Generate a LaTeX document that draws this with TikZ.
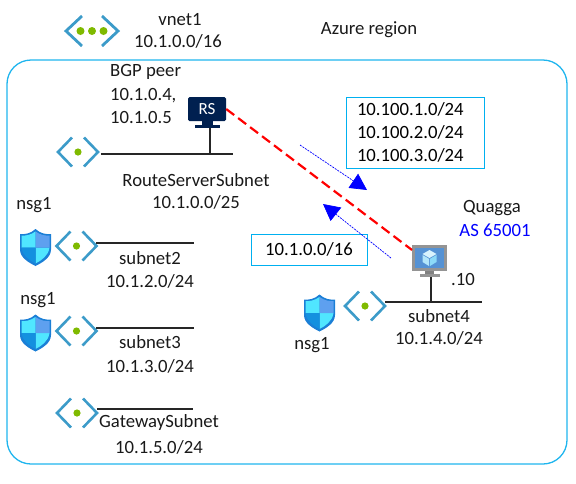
\documentclass[tikz,border=0pt]{standalone}
\usepackage{fontspec}
\setmainfont{Carlito}
\usepackage{tikz}
\usetikzlibrary{arrows.meta}
\definecolor{framecyan}{HTML}{1FB5EE}
\definecolor{boxcyan}{HTML}{00B0F0}
\definecolor{iconblue}{HTML}{3C9BC9}
\definecolor{icongreen}{HTML}{7FBA00}
\definecolor{rsnavy}{HTML}{002050}
\definecolor{shieldedge}{HTML}{1B7FD6}
\definecolor{shieldlight}{HTML}{50E6FF}
\definecolor{shieldmid}{HTML}{5EA0EF}
\definecolor{shielddeep}{HTML}{1490DF}
\tikzset{
  lbl/.style={inner sep=0pt, font=\fontsize{18.7}{22}\selectfont, text=black!90},
  subnetline/.style={line width=1.4pt, black!85},
  routebox/.style={draw=boxcyan, line width=1pt, fill=white, inner sep=0pt},
  peerlink/.style={line width=2.2pt, red, dash pattern=on 10pt off 5pt},
  advert/.style={line width=.7pt, blue, dash pattern=on 2pt off 1pt, -{Triangle[length=16.5pt,width=17pt]}},
  chevrons/.pic={
    \draw[iconblue, line width=2.6pt] (-6,-14.5) -- (-20,0) -- (-6,14.5);
    \draw[iconblue, line width=2.6pt] (6,-14.5) -- (20,0) -- (6,14.5);
    \fill[icongreen] (0,0) circle (3.6);
  },
  vneticon/.pic={
    \draw[iconblue, line width=2.8pt] (-10,-15) -- (-26,0) -- (-10,15);
    \draw[iconblue, line width=2.8pt] (10,-15) -- (26,0) -- (10,15);
    \foreach \dotx in {-11.5,0,11.5} \fill[icongreen] (\dotx,0) circle (4);
  },
  shield/.pic={
    \fill[shieldedge] (0,-18.5) .. controls (5,-14) and (10,-13) .. (15.5,-13.5) -- (15.5,2) .. controls (15.5,10) and (7,15) .. (0,18.5) .. controls (-7,15) and (-15.5,10) .. (-15.5,2) -- (-15.5,-13.5) .. controls (-10,-13) and (-5,-14) .. (0,-18.5) -- cycle;
    \fill[shieldlight] (0,-16) .. controls (-5,-12.5) and (-10,-11.5) .. (-14,-12) -- (-14,0) -- (0,0) -- cycle;
    \fill[shieldlight] (0,0) -- (14,0) .. controls (13,8) and (6,13) .. (0,16) -- cycle;
    \fill[shieldmid] (0,-16) .. controls (5,-12.5) and (10,-11.5) .. (14,-12) -- (14,0) -- (0,0) -- cycle;
    \fill[shielddeep] (0,0) -- (-14,0) .. controls (-13,8) and (-6,13) .. (0,16) -- cycle;
  },
  vmicon/.pic={
    \fill[black!42] (-17.5,-13) rectangle (17.5,12.5);
    \fill[cyan!55!blue!70!white] (-14.5,-10) rectangle (14.5,9.5);
    \fill[black!50] (-4.5,12.5) rectangle (4.5,16);
    \fill[black!42] (-10,16) rectangle (10,19);
    \fill[white!85!cyan] (0,-8) -- (7,-4) -- (0,0) -- (-7,-4) -- cycle;
    \fill[white!70!cyan] (-7,-3) -- (-.5,.8) -- (-.5,8) -- (-7,4) -- cycle;
    \fill[white!55!cyan] (7,-3) -- (.5,.8) -- (.5,8) -- (7,4) -- cycle;
  }
}
\begin{document}
\begin{tikzpicture}[x=1pt,y=-1pt]
\useasboundingbox (0,0) rectangle (576,483);
% outer region
\draw[framecyan, line width=1.3pt, rounded corners=24pt] (7,60) rectangle (567,464);
\node[lbl] (region) at (369,30) {Azure region};
% vnet
\pic at (92,31) {vneticon};
\node[lbl] (vnetname) at (180,20) {vnet1};
\node[lbl] (vnetaddr) at (178,41) {10.1.0.0/16};
% route server
\pic at (78,152) {chevrons};
\coordinate (rsl) at (101,154);
\coordinate (rsr) at (233,154);
\draw[subnetline] (rsl) -- (rsr);
\node[fill=rsnavy, rounded corners=1.5pt, minimum width=38pt, minimum height=24pt, inner sep=0pt, text=white, font=\fontsize{17}{20}\selectfont] (rs) at (207,109) {RS};
\fill[rsnavy] (202,121) rectangle (213,125);
\fill[rsnavy] (195,125) rectangle (220,128);
\coordinate (rsfoot) at (210,128);
\coordinate (rsbus) at (210,154);
\draw[subnetline] (rsfoot) -- (rsbus);
\node[lbl, anchor=west] (bgp) at (110,72) {BGP peer};
\node[lbl, anchor=west] (bgpa) at (110,96) {10.1.0.4,};
\node[lbl, anchor=west] (bgpb) at (110,118) {10.1.0.5};
\node[lbl] (rsname) at (196,180) {RouteServerSubnet};
\node[lbl] (rsaddr) at (196,202) {10.1.0.0/25};
% subnet2
\node[lbl] (nsga) at (34,205) {nsg1};
\pic at (35.5,247.5) {shield};
\pic at (76.5,246) {chevrons};
\coordinate (sal) at (96,243);
\coordinate (sar) at (194,243);
\draw[subnetline] (sal) -- (sar);
\node[lbl] (saname) at (150,258) {subnet2};
\node[lbl] (saaddr) at (150,281) {10.1.2.0/24};
% subnet3
\node[lbl] (nsgb) at (38,300) {nsg1};
\pic at (35.5,333) {shield};
\pic at (76.5,331) {chevrons};
\coordinate (sbl) at (96,328);
\coordinate (sbr) at (194,328);
\draw[subnetline] (sbl) -- (sbr);
\node[lbl] (sbname) at (150,342) {subnet3};
\node[lbl] (sbaddr) at (150,366) {10.1.3.0/24};
% gateway
\pic at (77,413) {chevrons};
\coordinate (gwl) at (97,409);
\coordinate (gwr) at (193,409);
\draw[subnetline] (gwl) -- (gwr);
\node[lbl] (gwname) at (159,423) {GatewaySubnet};
\node[lbl] (gwaddr) at (159,447) {10.1.5.0/24};
% subnet4 and quagga
\pic at (319.5,313) {shield};
\node[lbl] (nsgc) at (312,345) {nsg1};
\pic at (365,306) {chevrons};
\coordinate (scl) at (385,302);
\coordinate (scr) at (482,302);
\draw[subnetline] (scl) -- (scr);
\node[lbl] (scname) at (439,316) {subnet4};
\node[lbl] (scaddr) at (439,338) {10.1.4.0/24};
\pic at (429.5,258) {vmicon};
\coordinate (vm) at (412,250);
\coordinate (vmfoot) at (431,277);
\coordinate (scbus) at (431,302);
\draw[subnetline] (vmfoot) -- (scbus);
\node[lbl] (quagga) at (492,208) {Quagga};
\node[lbl, text=blue] (asn) at (495,230) {AS 65001};
\node[lbl] (ip) at (463,279) {.10};
% peering
\draw[peerlink] (rs.east) -- (vm);
% route boxes
\node[routebox, inner xsep=11pt, text width=116pt, minimum height=71pt, align=left, font=\fontsize{18.7}{22.7}\selectfont] (rtbox) at (415,132.5) {10.100.1.0/24\\10.100.2.0/24\\10.100.3.0/24};
\node[routebox, minimum width=116pt, minimum height=31pt, font=\fontsize{18.7}{22}\selectfont] (vnbox) at (309,249.5) {10.1.0.0/16};
% advertised routes
\coordinate (upa) at (300,145);
\coordinate (upb) at (367,190);
\coordinate (dna) at (391,258);
\coordinate (dnb) at (323,204);
\draw[advert] (upa) -- (upb);
\draw[advert] (dna) -- (dnb);
\end{tikzpicture}
\end{document}
